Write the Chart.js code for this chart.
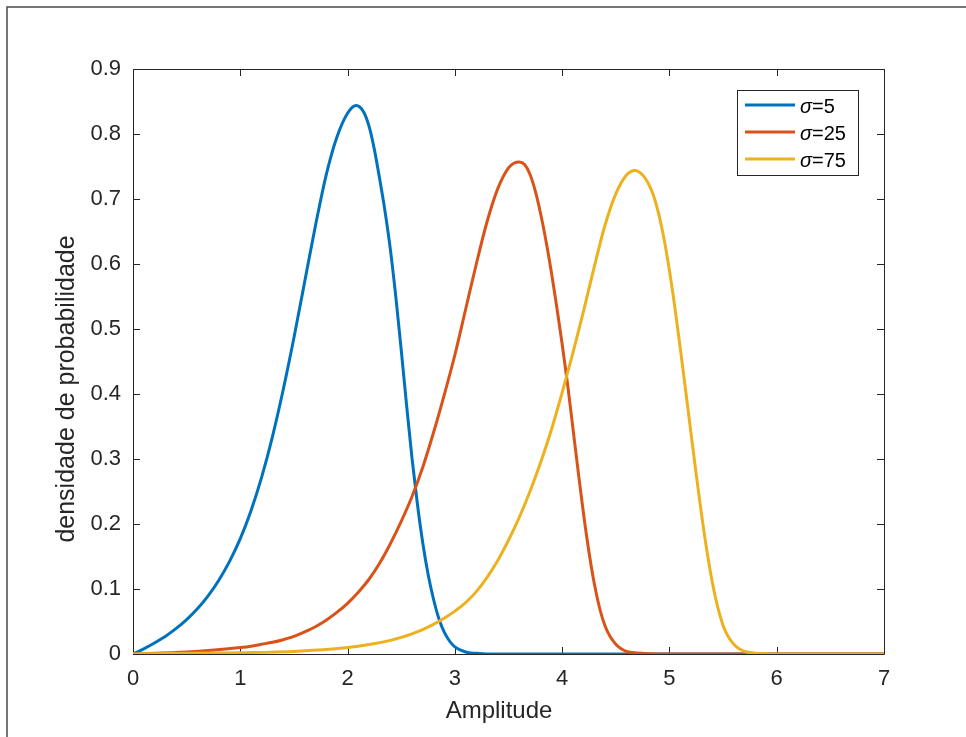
<!DOCTYPE html>
<html>
<head>
<meta charset="utf-8">
<script src="https://cdn.jsdelivr.net/npm/chart.js@4/dist/chart.umd.min.js"></script>
<style>
  html, body { margin: 0; padding: 0; background: #ffffff; }
  canvas { display: block; }
</style>
</head>
<body>
<canvas id="c" width="966" height="737"></canvas>
<script>
// ---- data ----
const seriesLabels = ['5', '25', '75'];           // sigma values
const seriesColors = ['#0072BD', '#D95319', '#EDB120'];

const blueX = [0, 0.1, 0.2, 0.3, 0.4, 0.5, 0.6, 0.7, 0.8, 0.9, 1.0, 1.1, 1.2, 1.3, 1.4, 1.5, 1.6, 1.7, 1.8, 1.9, 2.0, 2.08, 2.15, 2.2, 2.25, 2.3, 2.35, 2.4, 2.45, 2.5, 2.55, 2.6, 2.65, 2.7, 2.75, 2.8, 2.85, 2.9, 2.95, 3.0, 3.1, 3.2, 3.3, 7];
const blueY = [0, 0.008, 0.017, 0.027, 0.039, 0.053, 0.0695, 0.0895, 0.1135, 0.1425, 0.1775, 0.2205, 0.2725, 0.3345, 0.4065, 0.4865, 0.5725, 0.6585, 0.7365, 0.795, 0.832, 0.844, 0.834, 0.812, 0.776, 0.73, 0.68, 0.621, 0.549, 0.468, 0.383, 0.302, 0.232, 0.172, 0.123, 0.085, 0.055, 0.034, 0.02, 0.011, 0.003, 0.001, 0, 0];

const redX = [0, 0.5, 1.0, 1.1, 1.2, 1.3, 1.4, 1.5, 1.6, 1.7, 1.8, 1.9, 2.0, 2.1, 2.2, 2.3, 2.4, 2.5, 2.6, 2.7, 2.8, 2.9, 3.0, 3.1, 3.2, 3.3, 3.4, 3.5, 3.55, 3.6, 3.65, 3.7, 3.75, 3.8, 3.85, 3.9, 3.95, 4.0, 4.05, 4.1, 4.15, 4.2, 4.25, 4.3, 4.35, 4.4, 4.45, 4.5, 4.55, 4.6, 4.7, 4.8, 4.9, 7];
const redY = [0, 0.003, 0.010, 0.012, 0.015, 0.018, 0.022, 0.027, 0.034, 0.042, 0.052, 0.064, 0.078, 0.095, 0.115, 0.14, 0.17, 0.204, 0.242, 0.287, 0.34, 0.398, 0.46, 0.53, 0.60, 0.665, 0.716, 0.748, 0.755, 0.757, 0.753, 0.738, 0.712, 0.677, 0.635, 0.587, 0.534, 0.477, 0.416, 0.348, 0.28, 0.215, 0.157, 0.108, 0.07, 0.043, 0.026, 0.015, 0.008, 0.004, 0.0015, 0.0004, 0, 0];

const yellowX = [0, 1.0, 1.5, 2.0, 2.2, 2.4, 2.5, 2.6, 2.7, 2.8, 2.9, 3.0, 3.1, 3.2, 3.3, 3.4, 3.5, 3.6, 3.7, 3.8, 3.9, 4.0, 4.1, 4.2, 4.3, 4.4, 4.5, 4.6, 4.68, 4.75, 4.8, 4.85, 4.9, 4.95, 5.0, 5.05, 5.1, 5.15, 5.2, 5.25, 5.3, 5.35, 5.4, 5.45, 5.5, 5.55, 5.6, 5.65, 5.7, 5.8, 5.9, 6.0, 7];
const yellowY = [0, 0.002, 0.004, 0.010, 0.0145, 0.021, 0.0255, 0.031, 0.0375, 0.0455, 0.055, 0.066, 0.079, 0.096, 0.118, 0.144, 0.175, 0.21, 0.25, 0.295, 0.345, 0.402, 0.463, 0.528, 0.596, 0.66, 0.708, 0.737, 0.744, 0.737, 0.725, 0.706, 0.677, 0.638, 0.59, 0.534, 0.472, 0.407, 0.341, 0.276, 0.214, 0.158, 0.11, 0.072, 0.044, 0.026, 0.015, 0.008, 0.004, 0.0012, 0.0003, 0, 0];

const xTicks = [0, 1, 2, 3, 4, 5, 6, 7];
const yTicks = [0, 0.1, 0.2, 0.3, 0.4, 0.5, 0.6, 0.7, 0.8, 0.9];
const yTickLabels = ['0', '0.1', '0.2', '0.3', '0.4', '0.5', '0.6', '0.7', '0.8', '0.9'];
const xTitle = 'Amplitude';
const yTitle = 'densidade de probabilidade';

// ---- build chart ----
const AX = '#262626';
const FONT = '"Liberation Sans", Arial, Helvetica, sans-serif';
const toPts = (xs, ys) => xs.map((x, i) => ({ x: x, y: ys[i] }));
const xsAll = [blueX, redX, yellowX];
const ysAll = [blueY, redY, yellowY];

const datasets = seriesLabels.map((lab, i) => ({
  label: lab,
  data: toPts(xsAll[i], ysAll[i]),
  borderColor: seriesColors[i],
  backgroundColor: seriesColors[i],
  borderWidth: 3,
  pointRadius: 0,
  fill: false,
  cubicInterpolationMode: 'monotone',
  order: 2 - i
}));

const boxPlugin = {
  id: 'boxPlugin',
  beforeDatasetsDraw(chart) {
    const { ctx, chartArea: a, scales } = chart;
    ctx.save();
    ctx.strokeStyle = AX;
    ctx.lineWidth = 1;
    ctx.beginPath();
    ctx.moveTo(a.left + 0.5, a.top + 0.5);
    ctx.lineTo(a.right + 0.5, a.top + 0.5);
    ctx.lineTo(a.right + 0.5, a.bottom + 0.5);
    ctx.lineTo(a.left + 0.5, a.bottom + 0.5);
    ctx.closePath();
    ctx.stroke();
    const L = 7;
    ctx.beginPath();
    xTicks.forEach(v => {
      const px = Math.round(scales.x.getPixelForValue(v)) + 0.5;
      ctx.moveTo(px, a.bottom); ctx.lineTo(px, a.bottom - L);
      ctx.moveTo(px, a.top); ctx.lineTo(px, a.top + L);
    });
    yTicks.forEach(v => {
      const py = Math.round(scales.y.getPixelForValue(v)) + 0.5;
      ctx.moveTo(a.left, py); ctx.lineTo(a.left + L, py);
      ctx.moveTo(a.right, py); ctx.lineTo(a.right - L, py);
    });
    ctx.stroke();
    ctx.restore();
  },
  afterDraw(chart) {
    const { ctx } = chart;
    ctx.save();
    // outer figure frame (top and left)
    ctx.strokeStyle = '#4a4a4a';
    ctx.lineWidth = 1.5;
    ctx.beginPath();
    ctx.moveTo(7, 737); ctx.lineTo(7, 7); ctx.lineTo(966, 7);
    ctx.stroke();

    // axis titles
    ctx.fillStyle = AX;
    ctx.textAlign = 'center';
    ctx.textBaseline = 'middle';
    ctx.font = '24px ' + FONT;
    ctx.fillText(xTitle, 499, 711);
    ctx.save();
    ctx.translate(67, 389);
    ctx.rotate(-Math.PI / 2);
    ctx.font = '25px ' + FONT;
    ctx.fillText(yTitle, 0, 0);
    ctx.restore();

    // legend
    const bx = 737, by = 90, bw = 121, bh = 85;
    ctx.fillStyle = '#ffffff';
    ctx.fillRect(bx, by, bw, bh);
    ctx.strokeStyle = AX;
    ctx.lineWidth = 1;
    ctx.strokeRect(bx + 0.5, by + 0.5, bw, bh);
    const rows = [105, 132, 159];
    chart.data.datasets.forEach((ds, i) => {
      const y = rows[i];
      ctx.strokeStyle = ds.borderColor;
      ctx.lineWidth = 3;
      ctx.beginPath();
      ctx.moveTo(745, y); ctx.lineTo(795, y);
      ctx.stroke();
      ctx.fillStyle = '#000000';
      ctx.textAlign = 'left';
      ctx.textBaseline = 'middle';
      ctx.font = 'italic 20px ' + FONT;
      const sx = 800;
      ctx.fillText('\u03C3', sx, y + 2);
      const w = ctx.measureText('\u03C3').width;
      ctx.font = '20px ' + FONT;
      ctx.fillText('=' + ds.label, sx + w, y + 2);
    });
    ctx.restore();
  }
};

new Chart(document.getElementById('c'), {
  type: 'line',
  data: { datasets: datasets },
  options: {
    responsive: false,
    animation: false,
    devicePixelRatio: 1,
    layout: { padding: { left: 0, top: 69, right: 82, bottom: 0 } },
    plugins: { legend: { display: false }, tooltip: { enabled: false }, title: { display: false } },
    elements: { point: { radius: 0 } },
    scales: {
      x: {
        type: 'linear', min: 0, max: 7,
        afterBuildTicks: s => { s.ticks = xTicks.map(v => ({ value: v })); },
        afterFit: s => { s.height = 83; },
        grid: { display: false, drawTicks: false },
        border: { display: false },
        ticks: { padding: 12, color: AX, font: { family: FONT, size: 22 }, maxRotation: 0,
                 callback: v => String(v) }
      },
      y: {
        type: 'linear', min: 0, max: 0.9,
        afterBuildTicks: s => { s.ticks = yTicks.map(v => ({ value: v })); },
        afterFit: s => { s.width = 133; },
        grid: { display: false, drawTicks: false },
        border: { display: false },
        ticks: { padding: 12, color: AX, font: { family: FONT, size: 22 },
                 callback: (v, i) => yTickLabels[i] }
      }
    }
  },
  plugins: [boxPlugin]
});
</script>
</body>
</html>
